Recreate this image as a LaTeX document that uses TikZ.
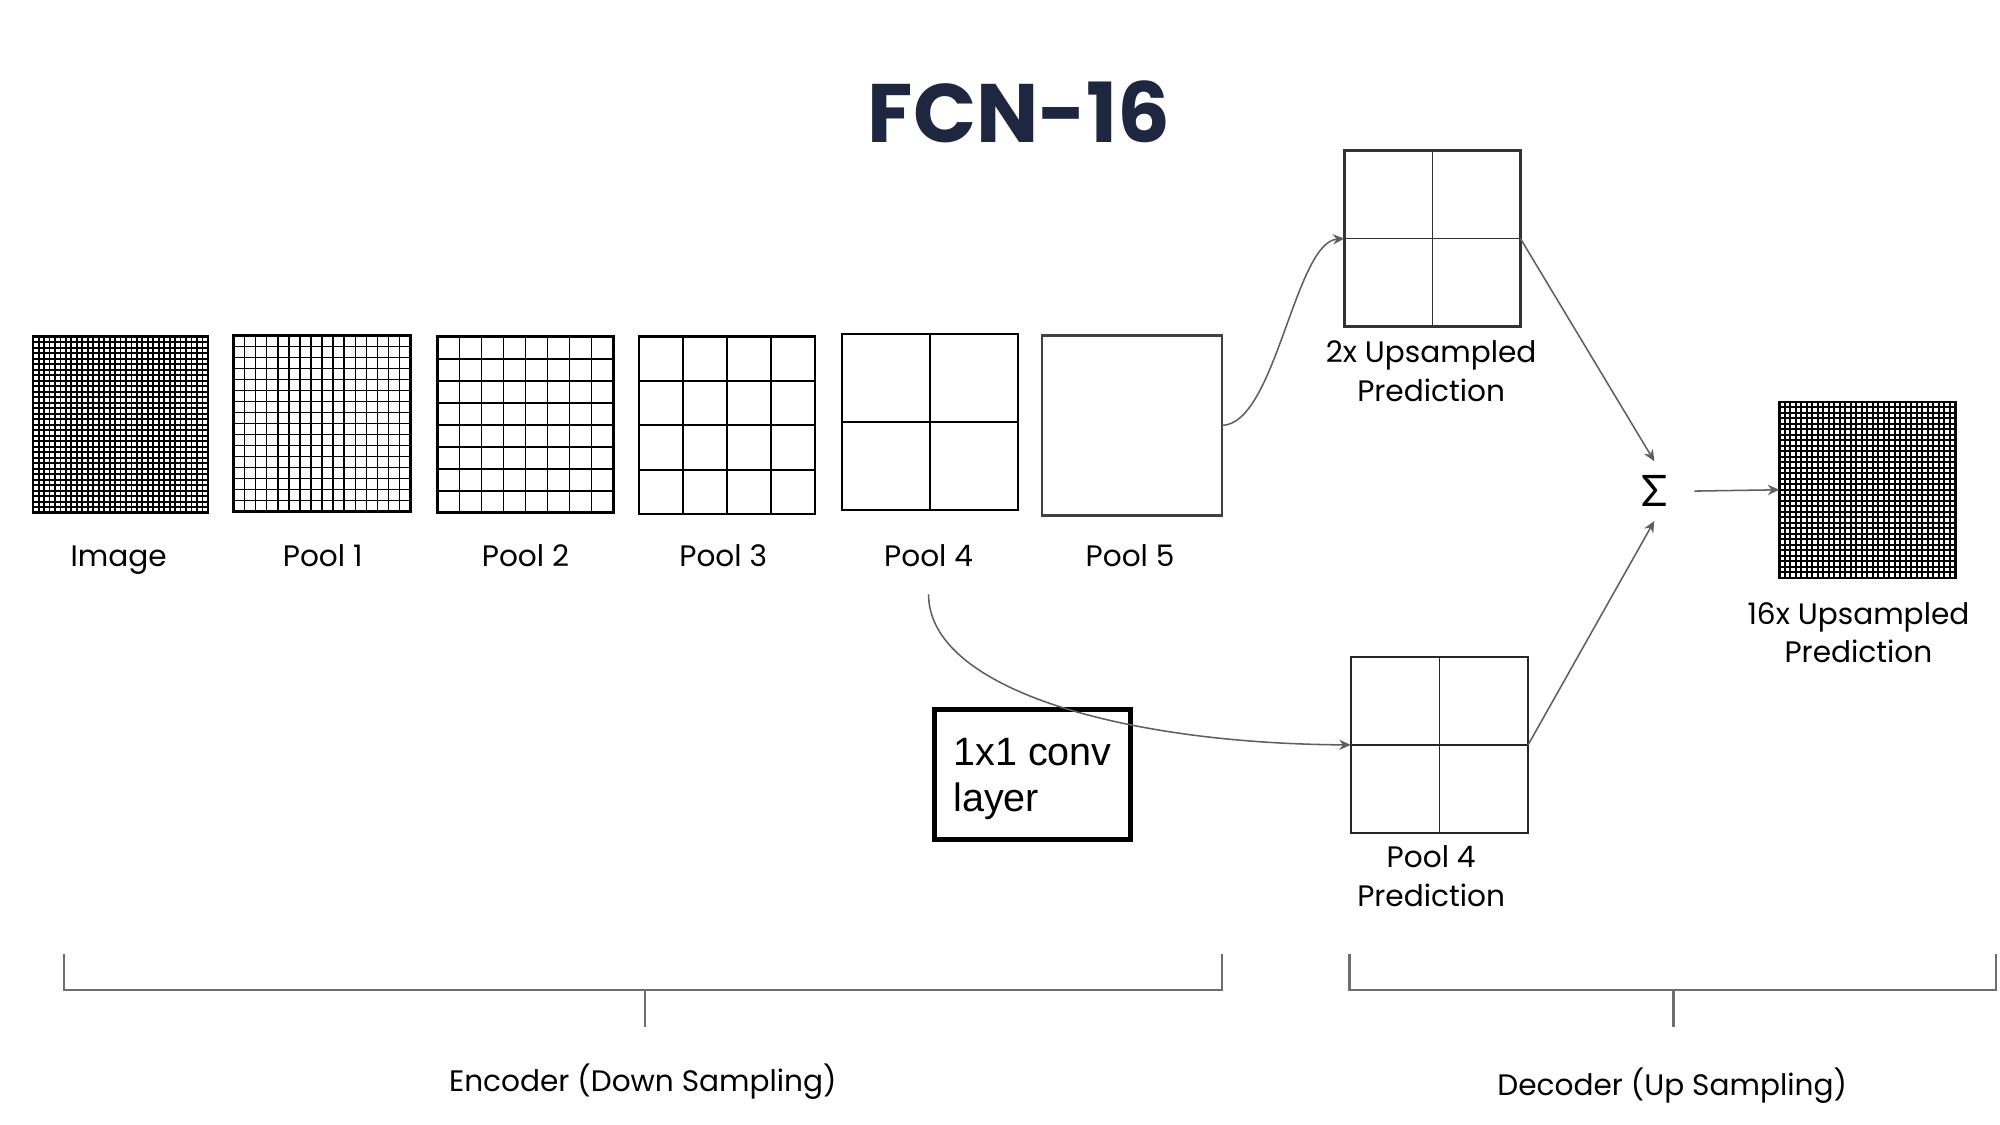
\documentclass[tikz,border=0pt]{standalone}
\usepackage{fontspec}
\setmainfont{Poppins}
\newfontfamily\convfont{Liberation Sans}
\newfontfamily\sigfont{Lato}
\usetikzlibrary{calc,arrows.meta}
\definecolor{titlecol}{HTML}{1E2640}
\definecolor{linecol}{HTML}{5F5F5F}
\definecolor{brackcol}{HTML}{6E6E6E}
\newcommand{\drawgrid}[3][]{%
  \pgfmathtruncatemacro{\gnm}{#3-1}%
  \foreach \k in {1,...,\gnm}{%
    \draw[#1] ($(#2.north west)!\k/#3!(#2.north east)$) -- ($(#2.south west)!\k/#3!(#2.south east)$);
    \draw[#1] ($(#2.north west)!\k/#3!(#2.south west)$) -- ($(#2.north east)!\k/#3!(#2.south east)$);
  }}
\tikzset{
  gbox/.style={draw=black, line width=1pt, inner sep=0pt, outer sep=0pt,
    minimum width=69pt, minimum height=69pt},
  lbl/.style={font=\fontsize{11.6}{15}\selectfont, align=center, inner sep=0pt},
  blbl/.style={lbl, anchor=base},
  conn/.style={draw=linecol, line width=0.6pt, -{Stealth[length=4.5pt,width=4pt]}},
  brack/.style={draw=brackcol, line width=0.8pt},
}
\begin{document}
\begin{tikzpicture}[x=0.5pt,y=-0.5pt]
\useasboundingbox (0,0) rectangle (1568,882);
\fill[white] (0,0) rectangle (1568,882);

% title
\node[font=\fontsize{32.5}{40}\selectfont\bfseries, text=titlecol, inner sep=0pt] (title) at (799,88) {FCN-16};

% encoder boxes
\node[gbox, minimum width=68.5pt, minimum height=69pt] (img) at (94.5,333) {};
\drawgrid[line width=0.7pt]{img}{32}
\node[gbox, minimum width=69.5pt, minimum height=69pt] (p1) at (252.5,332) {};
\drawgrid[line width=0.6pt]{p1}{16}
\node[gbox] (p2) at (412,333) {};
\drawgrid[line width=0.6pt]{p2}{8}
\node[gbox, minimum height=69.5pt] (p3) at (570,333.5) {};
\drawgrid[line width=0.7pt]{p3}{4}
\node[gbox] (p4) at (729,331) {};
\drawgrid[line width=0.7pt]{p4}{2}
\node[gbox, draw=black!75, minimum width=70.5pt, minimum height=70.5pt] (p5) at (887.5,333.5) {};

% encoder labels
\node[blbl] (limg) at (93,444) {Image};
\node[blbl] (lp1) at (253,444) {Pool 1};
\node[blbl] (lp2) at (412,444) {Pool 2};
\node[blbl] (lp3) at (567,444) {Pool 3};
\node[blbl] (lp4) at (728,444) {Pool 4};
\node[blbl] (lp5) at (886,444) {Pool 5};

% decoder boxes
\node[gbox, draw=black!80] (up2) at (1123,187) {};
\drawgrid[line width=0.7pt, draw=black!80]{up2}{2}
\node[lbl] (lup2) at (1122,291) {2x Upsampled\\Prediction};

\node[gbox, draw=black!85, minimum width=69.5pt] (p4p) at (1128.5,584) {};
\drawgrid[line width=0.7pt, draw=black!85]{p4p}{2}
\node[lbl] (lp4p) at (1122,687) {Pool 4\\Prediction};

\node[gbox] (out) at (1464,384) {};
\drawgrid[line width=0.7pt]{out}{32}
\node[lbl] (lout) at (1457,496) {16x Upsampled\\Prediction};

% sum
\node[inner sep=0pt, minimum width=31pt, minimum height=23pt] (sig) at (1297,385) {};
\node[font=\sigfont\fontsize{17}{17}\selectfont, inner sep=0pt] (sigtxt) at (1297,385) {Σ};

% 1x1 conv layer
\node[draw=black, line width=2pt, minimum width=77pt, minimum height=51pt, inner sep=0pt] (conv) at (809.5,607) {};
\node[align=left, inner sep=0pt, font=\convfont\fontsize{15.5}{18}\selectfont] (convtxt) at (809.5,611) {1x1 conv\\layer};

% connectors
\coordinate (p4out) at (728,466);
\draw[conn] (p4out) .. controls (728,540) and (880,583) .. (p4p.west);
\draw[conn] (p5.east) .. controls (1000,333) and (1015,190) .. (up2.west);
\draw[conn] (up2.east) -- (sig.north);
\draw[conn] (p4p.east) -- (sig.south);
\draw[conn] (sig.east) -- (out.west);

% brackets
\draw[brack] (50,748) -- (50,776) -- (958,776) -- (958,748);
\draw[brack] (506,776) -- (506,805);
\node[lbl] (lenc) at (504,848) {Encoder (Down Sampling)};
\draw[brack] (1058,748) -- (1058,776) -- (1565,776) -- (1565,748);
\draw[brack] (1312,776) -- (1312,805);
\node[lbl] (ldec) at (1311,851) {Decoder (Up Sampling)};
\end{tikzpicture}
\end{document}
